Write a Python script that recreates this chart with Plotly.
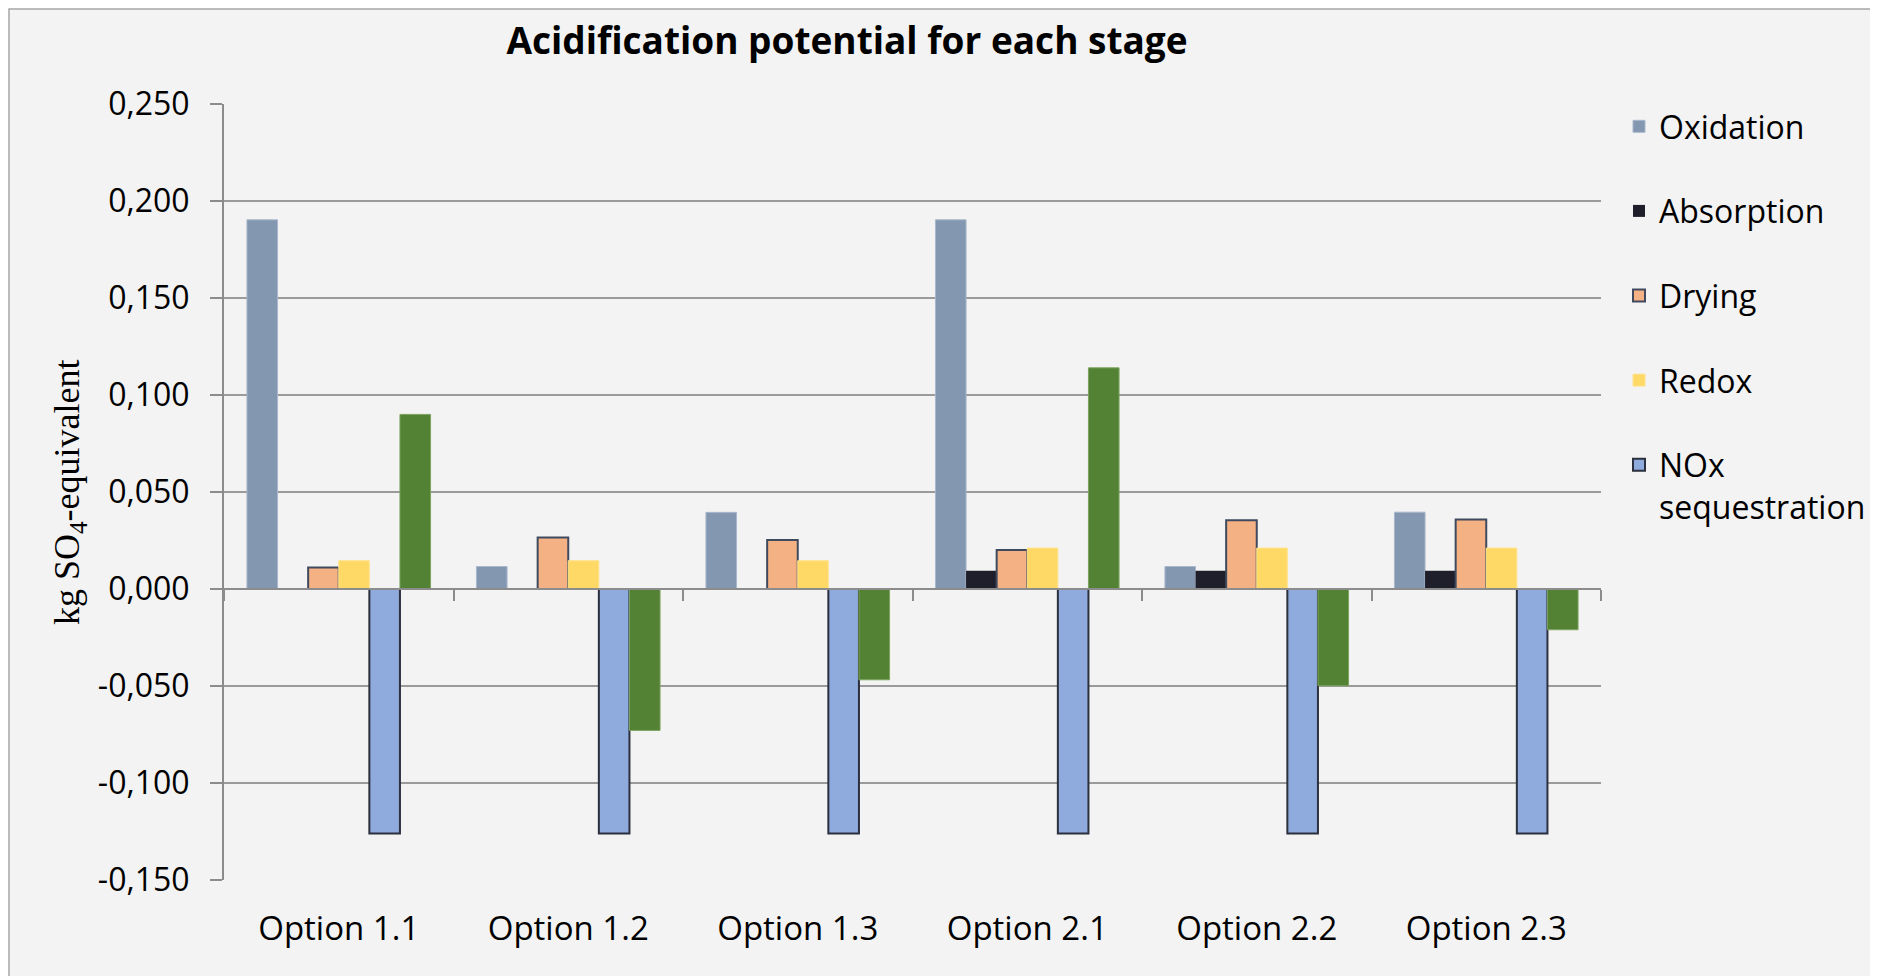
import plotly.graph_objects as go

categories = ["Option 1.1", "Option 1.2", "Option 1.3", "Option 2.1", "Option 2.2", "Option 2.3"]

oxidation = [0.1903, 0.0116, 0.0395, 0.1903, 0.0116, 0.0396]
absorption = [0.0, 0.0, 0.0, 0.0094, 0.0094, 0.0094]
drying = [0.0111, 0.0265, 0.0253, 0.0201, 0.0355, 0.0358]
redox = [0.0146, 0.0146, 0.0146, 0.0211, 0.0211, 0.0211]
nox_sequestration = [-0.126, -0.126, -0.126, -0.126, -0.126, -0.126]
total = [0.090, -0.0729, -0.0468, 0.114, -0.0499, -0.021]

y_tick_vals = [0.25, 0.2, 0.15, 0.1, 0.05, 0.0, -0.05, -0.1, -0.15]
y_tick_text = ["0,250", "0,200", "0,150", "0,100", "0,050", "0,000", "-0,050", "-0,100", "-0,150"]
x_boundaries = [-0.5, 0.5, 1.5, 2.5, 3.5, 4.5, 5.5]

title_text = "Acidification potential for each stage"
y_title = "kg SO<sub>4</sub>-equivalent"

FONT = "Open Sans"
W, H = 1878, 976
L, T = 216, 96
pw, ph = 1377, 776
R = W - L - pw
B = H - T - ph

series = [
    ("Oxidation", oxidation, "#8497B0", dict(color="#A9B7CC", width=1), True),
    ("Absorption", absorption, "#1F1F2B", dict(color="#1F1F2B", width=0), True),
    ("Drying", drying, "#F4B183", dict(color="#404A5E", width=2), True),
    ("Redox", redox, "#FFD966", dict(color="#FFE38F", width=1), True),
    ("NOx<br>sequestration", nox_sequestration, "#8FAADC", dict(color="#2B2F3E", width=2), True),
    ("Total", total, "#548235", dict(color="#7EA35E", width=1), False),
]

fig = go.Figure()
for i, (name, vals, col, line, show) in enumerate(series):
    fig.add_trace(go.Bar(
        x=categories, y=vals, name=name,
        marker=dict(color=col, line=line),
        showlegend=show, legendgroup=f"g{i}",
    ))

# helper trace so the zero-crossing category axis (with boundary ticks) is drawn
fig.add_trace(go.Scatter(x=[], y=[], xaxis="x2", showlegend=False, hoverinfo="skip"))


def px_to_paper_x(px):
    return (px - L) / pw


def px_to_paper_y(py):
    return (T + ph - py) / ph


fig.add_shape(type="rect", xref="paper", yref="paper",
              x0=px_to_paper_x(1), x1=px_to_paper_x(1866),
              y0=px_to_paper_y(1000), y1=px_to_paper_y(1),
              fillcolor="#F3F3F3", line=dict(color="#A6A6A6", width=1.5),
              layer="below")

fig.add_annotation(
    text=y_title, xref="paper", yref="paper",
    x=px_to_paper_x(61), y=0.5, textangle=-90, showarrow=False,
    xanchor="center", yanchor="middle",
    font=dict(family="Liberation Serif", size=36, color="#000000"),
)

grid_col = "#9A9A9A"
axis_col = "#8C8C8C"

fig.update_layout(
    width=W, height=H,
    margin=dict(l=L, r=R, t=T, b=B),
    paper_bgcolor="#FFFFFF",
    plot_bgcolor="#F3F3F3",
    barmode="group", bargap=0.2, bargroupgap=0.0,
    title=dict(text=f"<b>{title_text}</b>", x=839 / W, xanchor="center",
               y=1 - 33 / H, yanchor="middle",
               font=dict(family=FONT, size=37, color="#000000")),
    font=dict(family=FONT, size=32, color="#000000"),
    xaxis=dict(
        type="category", range=[-0.5, 5.5], showgrid=False, showline=False,
        ticks="", ticklabelstandoff=26, zeroline=False,
        tickfont=dict(family=FONT, size=33, color="#000000"),
    ),
    xaxis2=dict(
        overlaying="x", anchor="free", position=0.375, range=[-0.5, 5.5],
        showline=True, linecolor=axis_col, linewidth=2,
        tickvals=x_boundaries, ticks="outside",
        ticklen=11, tickcolor=axis_col, tickwidth=2,
        showticklabels=False, showgrid=False, zeroline=False,
    ),
    yaxis=dict(
        range=[-0.15, 0.25], tickvals=y_tick_vals, ticktext=y_tick_text,
        showgrid=True, gridcolor=grid_col, gridwidth=2,
        showline=True, linecolor=axis_col, linewidth=2,
        ticks="outside", ticklen=12, tickcolor=axis_col, tickwidth=2,
        ticklabelstandoff=14, zeroline=False,
        tickfont=dict(family=FONT, size=32, color="#000000"),
    ),
    legend=dict(
        x=px_to_paper_x(1611), y=px_to_paper_y(91), xanchor="left", yanchor="top",
        bgcolor="rgba(0,0,0,0)", font=dict(family=FONT, size=32, color="#000000"),
        tracegroupgap=40, valign="top", traceorder="grouped",
    ),
)

fig.write_html("out.html")
